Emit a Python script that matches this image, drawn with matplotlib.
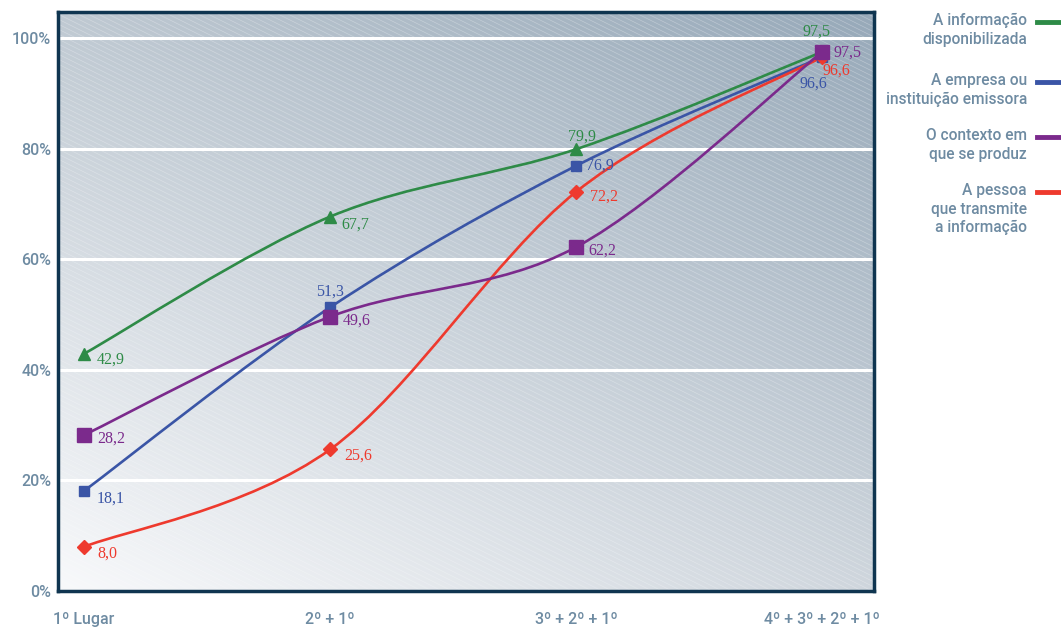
import numpy as np
import matplotlib
matplotlib.use("Agg")
import matplotlib.pyplot as plt
from matplotlib.path import Path
from matplotlib.patches import PathPatch
from matplotlib.lines import Line2D
from matplotlib.collections import LineCollection

# ---- data ----
categories = ["1º Lugar", "2º + 1º", "3º + 2º + 1º", "4º + 3º + 2º + 1º"]
info_disponibilizada = [42.9, 67.7, 79.9, 97.5]
empresa_emissora = [18.1, 51.3, 76.9, 96.6]
contexto_produz = [28.2, 49.6, 62.2, 97.5]
pessoa_transmite = [8.0, 25.6, 72.2, 96.6]
series_names = ["A informação\ndisponibilizada",
                "A empresa ou\ninstituição emissora",
                "O contexto em\nque se produz",
                "A pessoa\nque transmite\na informação"]
y_ticks = [0, 20, 40, 60, 80, 100]
y_tick_labels = ["0%", "20%", "40%", "60%", "80%", "100%"]

# ---- style ----
W, H = 1061, 629
TEXT_COL = "#6e8ba2"
SANS = ["Roboto", "DejaVu Sans"]
SERIF = ["Liberation Serif", "DejaVu Serif"]

fig = plt.figure(figsize=(W / 100, H / 100), dpi=100)
ax_l, ax_r, ax_t, ax_b = 58, 874, 12, 591
ax = fig.add_axes([ax_l / W, 1 - ax_b / H, (ax_r - ax_l) / W, (ax_b - ax_t) / H])
ax.set_xlim(-0.106, 3.21)
ax.set_ylim(0, 104.7)

# diagonal gradient background (bilinear between four corner colours)
def hex2rgb(h):
    h = h.lstrip("#")
    return np.array([int(h[i:i + 2], 16) / 255 for i in (0, 2, 4)])

bl, br = hex2rgb("#f8f9fb"), hex2rgb("#cfd6dd")
tl, tr = hex2rgb("#bfc9d2"), hex2rgb("#97a9b9")
nx, ny = 200, 150
u = np.linspace(0, 1, nx)[None, :, None]
v = np.linspace(0, 1, ny)[:, None, None]
img = (1 - v) * ((1 - u) * bl + u * br) + v * ((1 - u) * tl + u * tr)
ax.imshow(img, extent=[0, 1, 0, 1], origin="lower", transform=ax.transAxes,
          aspect="auto", zorder=0, interpolation="bilinear")

# faint diagonal hatch lines
aw, ah = ax_r - ax_l, ax_b - ax_t
slope = 0.5
segs = []
for c in np.arange(-aw * slope, ah + 1, 5.0):
    # y_px measured from top: y = c + slope * x
    x0, x1 = 0.0, float(aw)
    segs.append([(x0 / aw, 1 - (c + slope * x0) / ah),
                 (x1 / aw, 1 - (c + slope * x1) / ah)])
hatch = LineCollection(segs, colors="white", linewidths=0.5, alpha=0.3,
                       transform=ax.transAxes, zorder=0.5)
ax.add_collection(hatch)

# horizontal grid
for yv in y_ticks[1:]:
    ax.axhline(yv, color="white", lw=2.2, zorder=1)

x = np.arange(len(categories))


def smooth_path(xs, ys):
    pts = np.column_stack([xs, ys]).astype(float)
    ext = np.vstack([pts[0], pts, pts[-1]])
    verts = [tuple(pts[0])]
    codes = [Path.MOVETO]
    for i in range(len(pts) - 1):
        p0, p1, p2, p3 = ext[i], ext[i + 1], ext[i + 2], ext[i + 3]
        c1 = p1 + (p2 - p0) / 6
        c2 = p2 - (p3 - p1) / 6
        verts += [tuple(c1), tuple(c2), tuple(p2)]
        codes += [Path.CURVE4] * 3
    return Path(verts, codes)


series = [
    (info_disponibilizada, "#2e8b47", "^", 9),
    (empresa_emissora, "#3a55a6", "s", 7),
    (pessoa_transmite, "#ee3a2e", "D", 7),
    (contexto_produz, "#7b2a8c", "s", 10),
]
for vals, col, mk, ms in series:
    ax.add_patch(PathPatch(smooth_path(x, vals), fill=False, edgecolor=col,
                           lw=1.9, zorder=3, capstyle="round"))
for vals, col, mk, ms in series:
    ax.plot(x, vals, linestyle="none", marker=mk, ms=ms, color=col, zorder=4)

# value labels: (offset_x, offset_y) in pixels, alignment
label_pos = {
    "#2e8b47": [(13, -6, "left"), (11, -8, "left"), (6, 13, "center"), (-6, 20, "center")],
    "#3a55a6": [(13, -8, "left"), (0, 16, "center"), (10, 0, "left"), (-9, -27, "center")],
    "#7b2a8c": [(13, -4, "left"), (13, -4, "left"), (12, -4, "left"), (11, -1, "left")],
    "#ee3a2e": [(13, -7, "left"), (14, -6, "left"), (14, -5, "left"), (0, -14, "left")],
}
for vals, col, mk, ms in series:
    for xi, v, (dx, dy, ha) in zip(x, vals, label_pos[col]):
        ax.annotate(f"{v:.1f}".replace(".", ","), (xi, v), xytext=(dx, dy),
                    textcoords="offset pixels", ha=ha, va="center",
                    color=col, fontsize=11.5, family=SERIF, zorder=5)

# axes decoration
for s in ax.spines.values():
    s.set_color("#0f3550")
    s.set_linewidth(2.5)
    s.set_zorder(6)
ax.set_yticks(y_ticks)
ax.set_yticklabels(y_tick_labels)
ax.set_xticks(x)
ax.set_xticklabels(categories)
ax.tick_params(length=0, colors=TEXT_COL, labelsize=11.5)
ax.tick_params(axis="y", pad=5)
ax.tick_params(axis="x", pad=15)
for lab in ax.get_xticklabels() + ax.get_yticklabels():
    lab.set_family(SANS)
    lab.set_weight("medium")

# legend on the right
legend_y = [22, 82, 137, 192]
for name, (vals, col, mk, ms), yp in zip(
        series_names,
        [series[0], series[1], series[3], series[2]],
        legend_y):
    fig.text(1027 / W, 1 - (yp - 9) / H, name, ha="right", va="top",
             color=TEXT_COL, fontsize=11.2, family=SANS, weight="medium",
             linespacing=1.3)
    fig.add_artist(Line2D([1037 / W, 1061 / W], [1 - yp / H, 1 - yp / H],
                          color=col, lw=3.5, transform=fig.transFigure))

fig.savefig("out.png", dpi=100)
